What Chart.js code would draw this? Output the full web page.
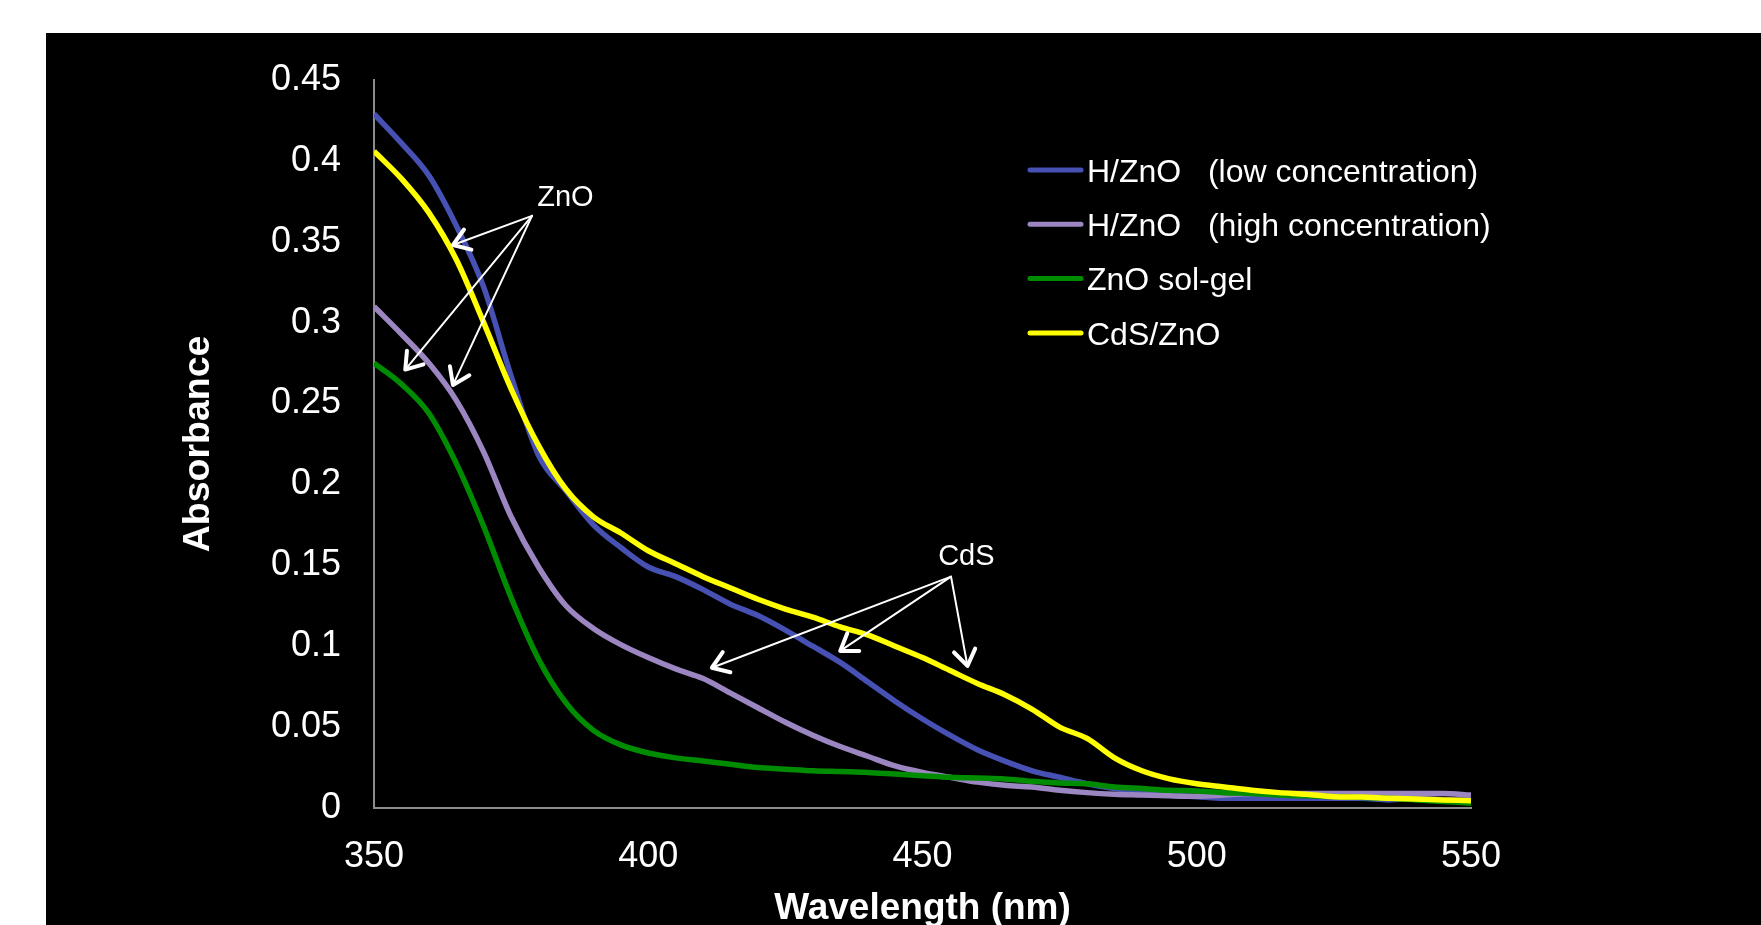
<!DOCTYPE html>
<html>
<head>
<meta charset="utf-8">
<script src="https://cdn.jsdelivr.net/npm/chart.js@4"></script>
<style>
	html, body { margin: 0; padding: 0; background: #fff; }
	#frame { position: absolute; left: 46px; top: 33px; width: 1715px; height: 892px; background: #000; }
</style>
</head>
<body>
<div id="frame"><canvas id="chart" width="1715" height="892"></canvas></div>
<script>
// wavelength (nm)
const wavelengths = [350,355,360,365,370,375,380,385,390,395,400,405,410,415,420,425,430,435,440,445,450,
	455,460,465,470,475,480,485,490,495,500,505,510,515,520,525,530,535,540,545,550];

// absorbance
const hznoLow = [0.429,0.411,0.391,0.360,0.322,0.267,0.218,0.196,0.175,0.161,0.149,0.143,0.135,0.126,0.119,0.110,0.100,0.090,0.078,0.066,0.055,
	0.045,0.036,0.029,0.023,0.019,0.015,0.012,0.010,0.008,0.007,0.006,0.006,0.006,0.006,0.006,0.006,0.005,0.006,0.005,0.005];
const hznoHigh = [0.310,0.293,0.275,0.252,0.220,0.180,0.149,0.125,0.111,0.101,0.093,0.086,0.080,0.071,0.062,0.053,0.045,0.038,0.032,0.026,0.022,
	0.019,0.016,0.014,0.013,0.011,0.0095,0.0085,0.008,0.0075,0.0072,0.008,0.009,0.009,0.009,0.009,0.009,0.009,0.009,0.009,0.008];
const znoSolGel = [0.275,0.262,0.244,0.213,0.174,0.130,0.092,0.065,0.048,0.039,0.034,0.031,0.029,0.027,0.025,0.024,0.023,0.0225,0.022,0.021,0.020,
	0.019,0.0185,0.018,0.0165,0.0155,0.015,0.013,0.012,0.011,0.0105,0.0095,0.009,0.008,0.0075,0.007,0.0065,0.006,0.005,0.004,0.003];
const cdsZno = [0.406,0.389,0.368,0.339,0.300,0.259,0.224,0.197,0.180,0.170,0.159,0.151,0.143,0.136,0.129,0.123,0.118,0.112,0.107,0.100,0.093,
	0.085,0.077,0.070,0.061,0.050,0.043,0.031,0.023,0.018,0.015,0.013,0.011,0.0095,0.0085,0.007,0.0068,0.006,0.0055,0.005,0.0045];

const seriesNames = ['H/ZnO   (low concentration)', 'H/ZnO   (high concentration)', 'ZnO sol-gel', 'CdS/ZnO'];

const xTicks = ['350', '400', '450', '500', '550'];
const yTicks = ['0', '0.05', '0.1', '0.15', '0.2', '0.25', '0.3', '0.35', '0.4', '0.45'];

// annotation labels and arrows, in data units
const noteTexts = ['ZnO', 'CdS'];
const noteTextX = [384.9, 458.0];
const noteTextY = [0.377, 0.155];
const noteFromX = [378.8, 455.2];
const noteFromY = [0.366, 0.143];
const arrowNote = [0, 0, 0, 1, 1, 1];
const arrowToX = [364.4, 355.7, 364.4, 411.6, 435.0, 458.2];
const arrowToY = [0.348, 0.271, 0.2615, 0.0867, 0.0971, 0.0878];

const FONT = '"Liberation Sans", Arial, Helvetica, sans-serif';

function points(values) {
	return wavelengths.map((w, i) => ({x: w, y: values[i]}));
}

function line(label, values, color, order) {
	return {
		label: label,
		data: points(values),
		borderColor: color,
		backgroundColor: color,
		borderWidth: 5.5,
		pointRadius: 0,
		fill: false,
		cubicInterpolationMode: 'monotone',
		order: order,
	};
}

const notesPlugin = {
	id: 'notes',
	afterDatasetsDraw(chart) {
		const ctx = chart.ctx;
		const xs = chart.scales.x, ys = chart.scales.y;
		ctx.save();
		ctx.strokeStyle = '#fff';
		ctx.fillStyle = '#fff';
		ctx.lineCap = 'round';
		ctx.lineJoin = 'round';
		for(let i=0; i<arrowToX.length; i++)
		{
			const n = arrowNote[i];
			const x0 = xs.getPixelForValue(noteFromX[n]), y0 = ys.getPixelForValue(noteFromY[n]);
			const x1 = xs.getPixelForValue(arrowToX[i]), y1 = ys.getPixelForValue(arrowToY[i]);
			ctx.lineWidth = 2;
			ctx.beginPath(); ctx.moveTo(x0, y0); ctx.lineTo(x1, y1); ctx.stroke();
			const a = Math.atan2(y0 - y1, x0 - x1);
			const len = 19, spread = 0.6;
			ctx.lineWidth = 4;
			ctx.beginPath();
			ctx.moveTo(x1 + len*Math.cos(a - spread), y1 + len*Math.sin(a - spread));
			ctx.lineTo(x1, y1);
			ctx.lineTo(x1 + len*Math.cos(a + spread), y1 + len*Math.sin(a + spread));
			ctx.stroke();
		}
		ctx.font = '29px ' + FONT;
		ctx.textAlign = 'center';
		ctx.textBaseline = 'middle';
		noteTexts.forEach((t, i) => {
			ctx.fillText(t, xs.getPixelForValue(noteTextX[i]), ys.getPixelForValue(noteTextY[i]));
		});
		ctx.restore();
	}
};

const legendPlugin = {
	id: 'sideLegend',
	afterDraw(chart) {
		const ctx = chart.ctx;
		ctx.save();
		ctx.font = '32px ' + FONT;
		ctx.textBaseline = 'middle';
		ctx.textAlign = 'left';
		chart.data.datasets.forEach((ds, i) => {
			const y = 140 + i*54.3;
			ctx.strokeStyle = ds.borderColor;
			ctx.lineWidth = 5;
			ctx.lineCap = 'round';
			ctx.beginPath(); ctx.moveTo(984, y - 3); ctx.lineTo(1035, y - 3); ctx.stroke();
			ctx.fillStyle = '#fff';
			ctx.fillText(ds.label, 1041, y);
		});
		ctx.restore();
	}
};

new Chart(document.getElementById('chart'), {
	type: 'line',
	data: {
		datasets: [
			line(seriesNames[0], hznoLow, '#4751b3', 3),
			line(seriesNames[1], hznoHigh, '#9b86c1', 2),
			line(seriesNames[2], znoSolGel, '#008c00', 1),
			line(seriesNames[3], cdsZno, '#ffff00', 0),
		]
	},
	options: {
		responsive: false,
		animation: false,
		layout: {padding: {top: 47, right: 290, bottom: 0, left: 0}},
		plugins: {
			legend: {display: false},
			tooltip: {enabled: false},
		},
		scales: {
			x: {
				type: 'linear',
				min: 350,
				max: 550,
				afterFit: (s) => { s.height = 117; },
				grid: {display: false, drawTicks: false},
				border: {display: true, color: '#8c8c8c', width: 2},
				ticks: {
					stepSize: 50,
					padding: 27,
					color: '#fff',
					font: {family: FONT, size: 36},
					maxRotation: 0,
					callback: (v) => xTicks[Math.round((v - 350)/50)],
				},
				title: {
					display: true,
					text: 'Wavelength (nm)',
					color: '#fff',
					font: {family: FONT, size: 37, weight: 'bold', lineHeight: 0.85},
					padding: {top: 0, bottom: 0},
				},
			},
			y: {
				min: 0,
				max: 0.45,
				// tick padding would otherwise push the plot top down
				afterFit: (s) => { s.width = 328; s.paddingTop = 20; s.paddingBottom = 20; },
				grid: {display: false, drawTicks: false},
				border: {display: true, color: '#8c8c8c', width: 2},
				ticks: {
					stepSize: 0.05,
					padding: 33,
					color: '#fff',
					font: {family: FONT, size: 36},
					callback: (v) => yTicks[Math.round(v/0.05)],
				},
				title: {
					display: true,
					text: 'Absorbance',
					color: '#fff',
					font: {family: FONT, size: 37.5, weight: 'bold', lineHeight: 1.2},
					padding: {top: 130, bottom: 0},
				},
			},
		},
	},
	plugins: [notesPlugin, legendPlugin],
});
</script>
</body>
</html>
